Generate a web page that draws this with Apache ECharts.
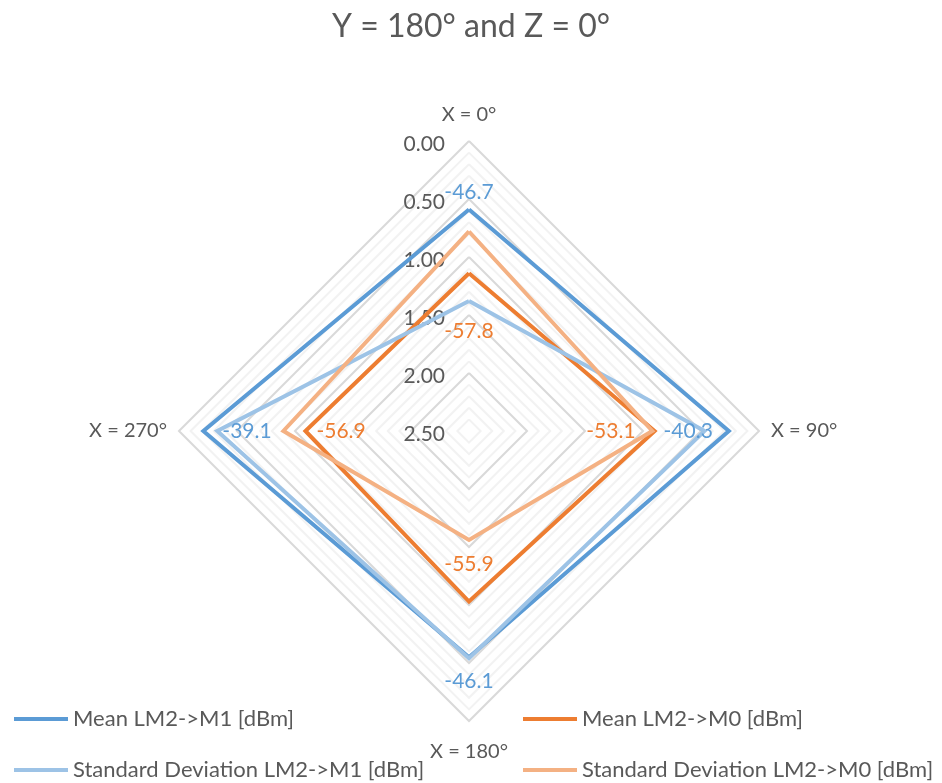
<!DOCTYPE html>
<html>
<head>
<meta charset="utf-8">
<script src="https://cdn.jsdelivr.net/npm/echarts@6/dist/echarts.min.js"></script>
<style>html,body{margin:0;padding:0;background:#fff}#c{width:942px;height:783px}</style>
</head>
<body>
<div id="c"></div>
<script>
// ---- data ----
const titleText = 'Y = 180° and Z = 0°';
const categories = ['X = 0°', 'X = 90°', 'X = 180°', 'X = 270°'];
const angles = [0, 90, 180, 270];
const radialTicks = [0, 0.5, 1, 1.5, 2, 2.5];
const seriesNames = ['Mean LM2->M1 [dBm]', 'Mean LM2->M0 [dBm]', 'Standard Deviation LM2->M1 [dBm]', 'Standard Deviation LM2->M0 [dBm]'];
const meanM1 = [0.59, 0.26, 0.55, 0.21];
const meanM0 = [1.14, 0.90, 1.03, 1.09];
const stdM1 = [1.38, 0.47, 0.54, 0.33];
const stdM0 = [0.78, 0.92, 1.56, 0.90];
const meanM1Labels = [-46.7, -40.3, -46.1, -39.1];
const meanM0Labels = [-57.8, -53.1, -55.9, -56.9];

// ---- layout / style ----
const FONT = 'Lato';
const TXT = '#595959';
const C = { center: [469, 431], radius: 290 };
const colors = ['#5B9BD5', '#ED7D31', '#9DC3E6', '#F4B183'];
const placeM1 = [{p: 'top', d: 7}, {p: 'left', d: 16}, {p: 'bottom', d: 14}, {p: 'right', d: 19}];
const placeM0 = [{p: 'bottom', d: 47}, {p: 'left', d: 19}, {p: 'top', d: 27}, {p: 'right', d: 11}];
const legendPos = [[14, 707], [523, 707], [14, 758], [523, 758]];

function buildData(vals, labels, place) {
  const d = vals.map(function (v, i) {
    const item = { value: [v, angles[i]] };
    if (labels) {
      item.label = { show: true, formatter: labels[i].toFixed(1), position: place[i].p, distance: place[i].d };
    }
    return item;
  });
  d.push({ value: [vals[0], 360], label: { show: false } });
  return d;
}

function lineSeries(name, vals, color, labels, place) {
  return {
    name: name, type: 'line', coordinateSystem: 'polar',
    data: buildData(vals, labels, place),
    symbol: 'circle', symbolSize: 0, showSymbol: true,
    lineStyle: { width: 4, color: color, join: 'miter' },
    itemStyle: { color: color },
    label: { show: false, color: color, fontFamily: FONT, fontSize: 21 },
    emphasis: { disabled: true },
    silent: true
  };
}

// radar indicators run counter-clockwise, so list them in that order
const radarOrder = [0, 3, 2, 1];
const radarMax = radialTicks[radialTicks.length - 1];

const legends = seriesNames.map(function (n, i) {
  return {
    left: legendPos[i][0], top: legendPos[i][1], padding: 0,
    data: [n], itemWidth: 54, itemHeight: 4, icon: 'rect', selectedMode: false,
    textStyle: { fontFamily: FONT, fontSize: 22, color: TXT, lineHeight: 24 }
  };
});

const nameRich = {
  t: { fontFamily: FONT, fontSize: 20, color: TXT, padding: [0, 0, 4, 0] },
  b: { fontFamily: FONT, fontSize: 20, color: TXT, padding: [9, 0, 0, 0] },
  n: { fontFamily: FONT, fontSize: 20, color: TXT }
};

const option = {
  animation: false,
  backgroundColor: '#ffffff',
  title: {
    text: titleText, left: 'center', top: 6,
    textStyle: { fontFamily: FONT, fontSize: 32, fontWeight: 'normal', color: TXT }
  },
  radar: {
    center: C.center, radius: C.radius, startAngle: 90, shape: 'polygon',
    splitNumber: 25,
    indicator: radarOrder.map(function (i) { return { name: categories[i], min: 0, max: radarMax }; }),
    nameGap: 12,
    axisName: {
      color: TXT, fontFamily: FONT, fontSize: 20,
      formatter: function (name) {
        if (name === categories[0]) return '{t|' + name + '}';
        if (name === categories[2]) return '{b|' + name + '}';
        return '{n|' + name + '}';
      },
      rich: nameRich
    },
    axisLine: { show: false },
    axisTick: { show: false },
    axisLabel: { show: false },
    splitArea: { show: false },
    splitLine: { lineStyle: { width: 2, color: ['#D9D9D9', '#F2F2F2', '#F2F2F2', '#F2F2F2', '#F2F2F2'] } }
  },
  polar: { center: C.center, radius: C.radius },
  angleAxis: { type: 'value', min: 0, max: 360, startAngle: 90, clockwise: true, show: false },
  radiusAxis: {
    type: 'value', min: radialTicks[0], max: radarMax, interval: radialTicks[1] - radialTicks[0], inverse: true,
    axisLine: { show: false }, axisTick: { show: false }, splitLine: { show: false },
    axisLabel: {
      margin: 24, fontFamily: FONT, fontSize: 21, color: TXT,
      formatter: function (v) { return '{a|' + v.toFixed(2) + '}'; },
      rich: { a: { fontFamily: FONT, fontSize: 21, color: TXT, padding: [7, 0, 0, 0] } }
    }
  },
  legend: legends,
  series: [
    lineSeries(seriesNames[0], meanM1, colors[0], meanM1Labels, placeM1),
    lineSeries(seriesNames[1], meanM0, colors[1], meanM0Labels, placeM0),
    lineSeries(seriesNames[2], stdM1, colors[2], null, null),
    lineSeries(seriesNames[3], stdM0, colors[3], null, null)
  ]
};

const chart = echarts.init(document.getElementById('c'), null, { renderer: 'canvas' });
chart.setOption(option);
</script>
</body>
</html>
